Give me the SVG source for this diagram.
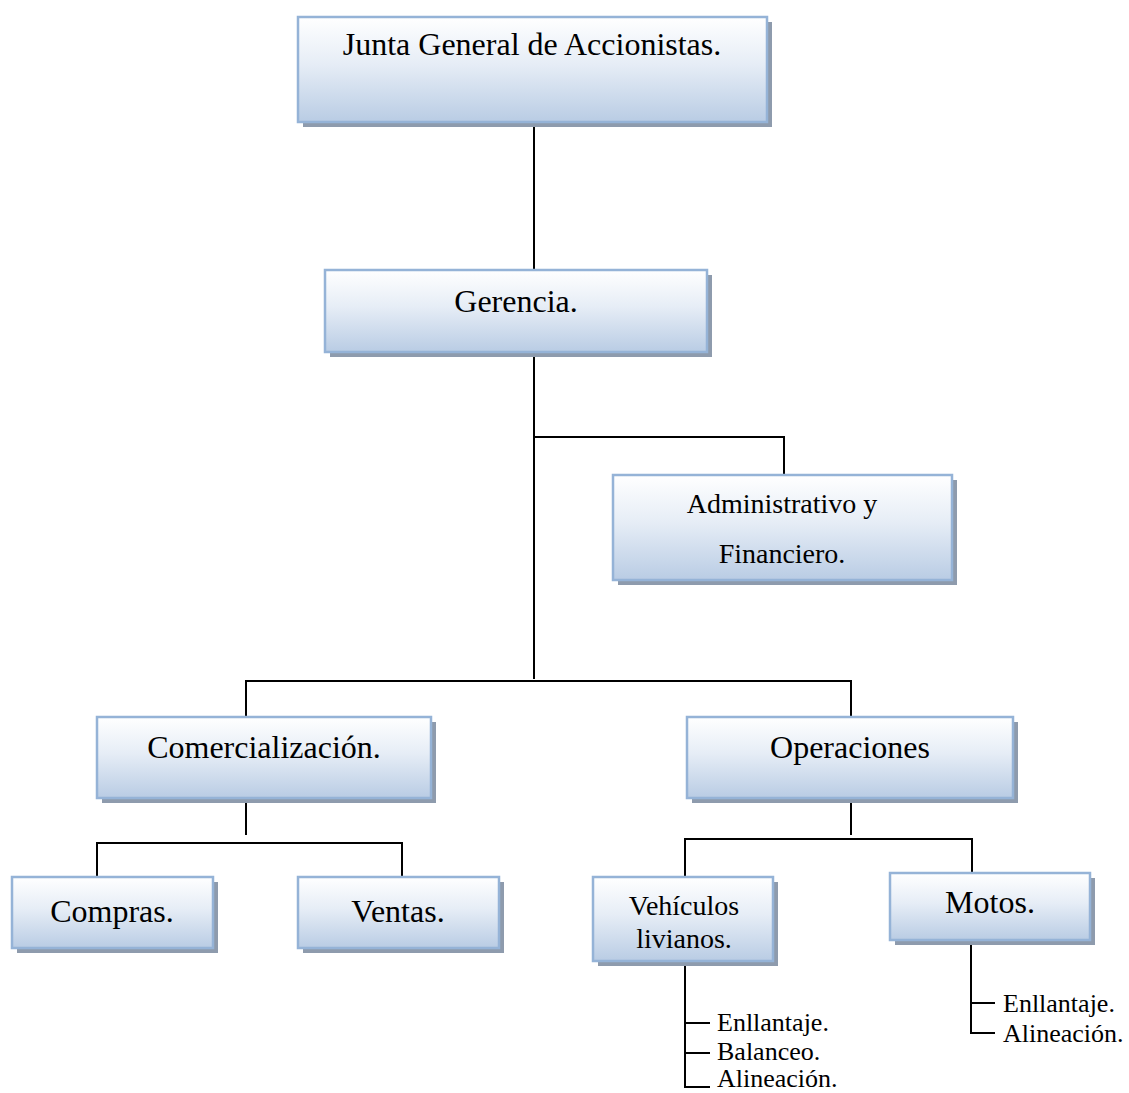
<svg xmlns="http://www.w3.org/2000/svg" width="1129" height="1093" viewBox="0 0 1129 1093">
<defs>
<linearGradient id="g" x1="0" y1="0" x2="0" y2="1">
<stop offset="0" stop-color="#ffffff"/>
<stop offset="0.45" stop-color="#e6edf6"/>
<stop offset="1" stop-color="#b9cce4"/>
</linearGradient>
</defs>
<style>
.box{fill:url(#g);stroke:#95b3d7;stroke-width:2.5}
.sh{fill:#8e9bad}
.t{font-family:"Liberation Serif","Times New Roman",serif;fill:#000;text-anchor:middle}
.s{font-family:"Liberation Serif","Times New Roman",serif;fill:#000;font-size:26px}
.c{stroke:#000;stroke-width:2;fill:none}
</style>
<rect width="1129" height="1093" fill="#fff"/>
<g id="connectors">
<path class="c" d="M534 122V271M534 352V679"/>
<path class="c" d="M534 437H784V475"/>
<path class="c" d="M246 717V681H851V717"/>
<path class="c" d="M246 798V835M97 877V843H402V877"/>
<path class="c" d="M851 798V835M685 877V839H972V873"/>
<path class="c" d="M685 961V1087H710M685 1023H710M685 1053H710"/>
<path class="c" d="M971 940V1033H995M971 1003H995"/>
</g>
<g id="junta">
<rect class="sh" x="303" y="22" width="469" height="105"/>
<rect class="box" x="298" y="17" width="469" height="105"/>
<text class="t" x="532" y="55" font-size="32">Junta General de Accionistas.</text>
</g>
<g id="gerencia">
<rect class="sh" x="330" y="275" width="382" height="82"/>
<rect class="box" x="325" y="270" width="382" height="82"/>
<text class="t" x="516" y="312" font-size="32">Gerencia.</text>
</g>
<g id="administrativo">
<rect class="sh" x="618" y="480" width="339" height="105"/>
<rect class="box" x="613" y="475" width="339" height="105"/>
<text class="t" x="782" y="513" font-size="28">Administrativo y</text>
<text class="t" x="782" y="563" font-size="28">Financiero.</text>
</g>
<g id="comercializacion">
<rect class="sh" x="102" y="722" width="334" height="81"/>
<rect class="box" x="97" y="717" width="334" height="81"/>
<text class="t" x="264" y="758" font-size="32">Comercialización.</text>
</g>
<g id="operaciones">
<rect class="sh" x="692" y="722" width="326" height="81"/>
<rect class="box" x="687" y="717" width="326" height="81"/>
<text class="t" x="850" y="758" font-size="32">Operaciones</text>
</g>
<g id="compras">
<rect class="sh" x="17" y="882" width="201" height="71"/>
<rect class="box" x="12" y="877" width="201" height="71"/>
<text class="t" x="112" y="922" font-size="32">Compras.</text>
</g>
<g id="ventas">
<rect class="sh" x="303" y="882" width="201" height="71"/>
<rect class="box" x="298" y="877" width="201" height="71"/>
<text class="t" x="398" y="922" font-size="32">Ventas.</text>
</g>
<g id="vehiculos">
<rect class="sh" x="598" y="882" width="180" height="84"/>
<rect class="box" x="593" y="877" width="180" height="84"/>
<text class="t" x="684" y="915" font-size="28">Vehículos</text>
<text class="t" x="684" y="948" font-size="28">livianos.</text>
</g>
<g id="motos">
<rect class="sh" x="895" y="878" width="200" height="67"/>
<rect class="box" x="890" y="873" width="200" height="67"/>
<text class="t" x="990" y="913" font-size="32">Motos.</text>
</g>
<g id="vehiculos-items">
<text class="s" x="717" y="1031">Enllantaje.</text>
<text class="s" x="717" y="1060">Balanceo.</text>
<text class="s" x="717" y="1087">Alineación.</text>
</g>
<g id="motos-items">
<text class="s" x="1003" y="1012">Enllantaje.</text>
<text class="s" x="1003" y="1042">Alineación.</text>
</g>
</svg>
